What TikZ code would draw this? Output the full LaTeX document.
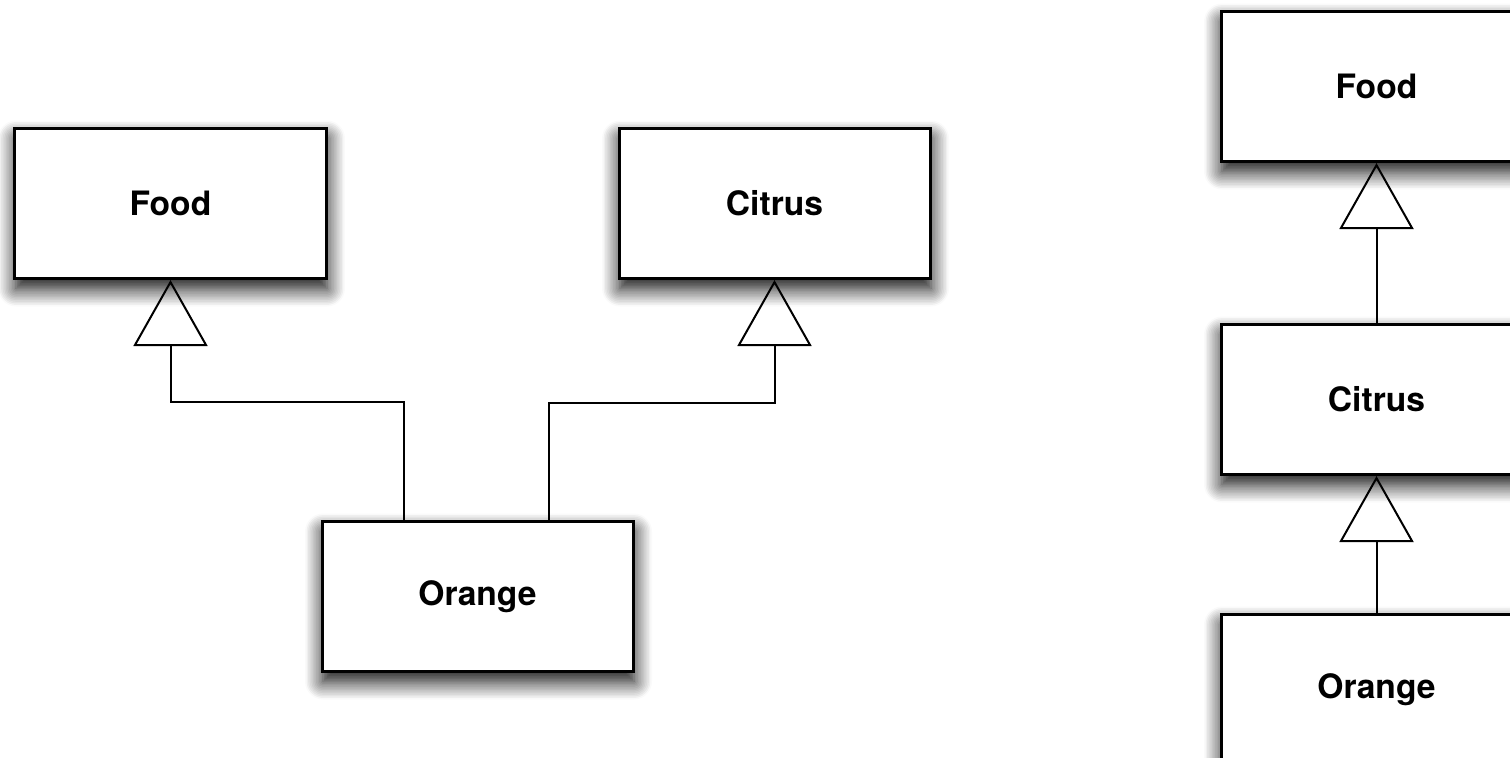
\documentclass[tikz,border=0pt]{standalone}
\usepackage{fontspec}
\setmainfont{TeX Gyre Heros}
\usetikzlibrary{positioning,arrows.meta,shadows.blur}

\begin{document}
\begin{tikzpicture}[very thick, node distance=2cm,
    classbox/.style={draw, line width=1.5pt, rectangle, fill=white,
        minimum width=155.5pt, minimum height=75pt,
        font=\fontsize{16.8pt}{20pt}\selectfont\bfseries,
        blur shadow={shadow xshift=0.5pt, shadow yshift=-5pt, shadow blur radius=9pt, shadow blur steps=12, shadow opacity=100}},
    isa/.style={-{Triangle[open, length=33pt, width=37pt]}, line width=1pt}]
    \useasboundingbox (-85.25pt,101.75pt) rectangle (669.75pt,-276.75pt);

    % left: orange has two parents
    \node (food) [classbox] {Food};
    \node (citrus) [classbox, right=145pt of food] {Citrus};
    \node (orange) [classbox, below right=120pt and -3.5pt of food] {Orange};

    % right: one chain
    \node (food_r) [classbox, above right=-18pt and 144pt of citrus] {Food};
    \node (citrus_r) [classbox, below=80pt of food_r] {Citrus};
    \node (orange_r) [classbox, below=68.5pt of citrus_r] {Orange};

    \draw[isa] ([xshift=-37pt]orange.north) -- ++(0,59pt) -| (food.south);
    \draw[isa] ([xshift=35.75pt]orange.north) -- ++(0,58.5pt) -| (citrus.south);
    \draw[isa] (citrus_r) -- (food_r);
    \draw[isa] (orange_r) -- (citrus_r);
\end{tikzpicture}
\end{document}
